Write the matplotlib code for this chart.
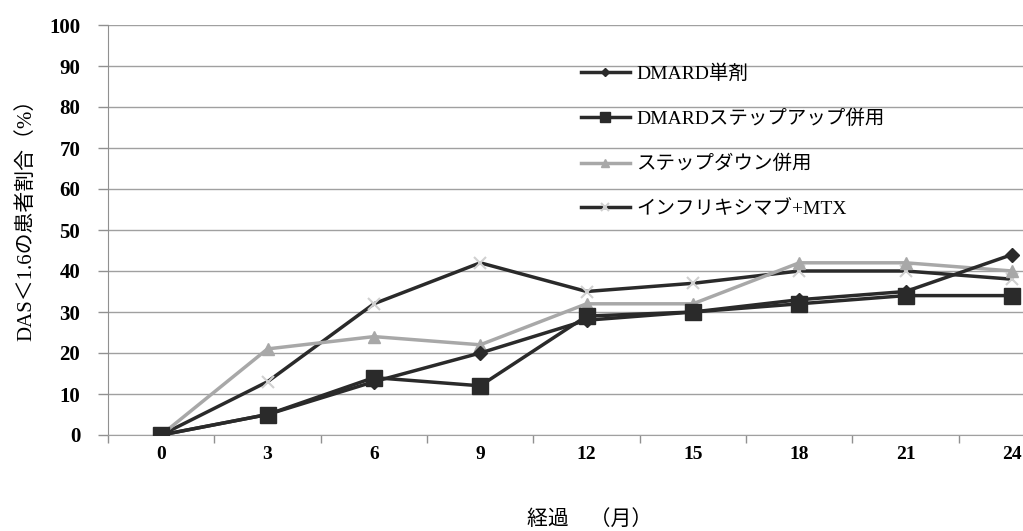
import matplotlib
matplotlib.use("Agg")
import matplotlib.pyplot as plt
from matplotlib.ticker import FixedLocator

plt.rcParams['font.family'] = ['Liberation Serif', 'Noto Sans CJK JP', 'DejaVu Sans']

months = ["0", "3", "6", "9", "12", "15", "18", "21", "24"]
dmard_single = [0, 5, 13, 20, 28, 30, 33, 35, 44]
dmard_stepup = [0, 5, 14, 12, 29, 30, 32, 34, 34]
stepdown = [0, 21, 24, 22, 32, 32, 42, 42, 40]
ifx_mtx = [0, 13, 32, 42, 35, 37, 40, 40, 38]
labels = ["DMARD単剤", "DMARDステップアップ併用", "ステップダウン併用", "インフリキシマブ+MTX"]

fig = plt.figure(figsize=(10.23, 5.31), dpi=100)
ax = fig.add_axes([108/1023, 1 - 435/531, 1 - 108/1023, (435 - 25)/531])
x = list(range(len(months)))

dark = "#2a2a2a"
l4, = ax.plot(x, ifx_mtx, color=dark, lw=2.5, marker='x', ms=9, mec="#d0d0d0", mew=1.5, zorder=3)
l3, = ax.plot(x, stepdown, color="#a8a8a8", lw=2.5, marker='^', ms=9, mfc="#a8a8a8", mec="#a8a8a8", zorder=4)
l1, = ax.plot(x, dmard_single, color=dark, lw=2.5, marker='D', ms=7, mfc=dark, mec=dark, zorder=5)
l2, = ax.plot(x, dmard_stepup, color=dark, lw=2.5, marker='s', ms=11, mfc=dark, mec=dark, zorder=6)

ax.set_ylim(0, 100)
ax.set_xlim(-0.5, (1023 - 160) / 106.5)
ax.set_yticks(range(0, 101, 10))
ax.yaxis.grid(True, color="#a0a0a0", lw=1.0)
ax.set_axisbelow(True)
ax.set_xticks(x)
ax.set_xticklabels(months)
ax.xaxis.set_minor_locator(FixedLocator([i + 0.5 for i in range(-1, 9)]))
ax.tick_params(axis='x', which='major', length=0, pad=8, labelsize=14)
ax.tick_params(axis='x', which='minor', length=6, color="#909090", width=1)
ax.tick_params(axis='y', length=7, color="#909090", width=1, pad=13, labelsize=15)
for lab in ax.get_xticklabels() + ax.get_yticklabels():
    lab.set_fontweight('bold')

for s in ['top', 'right']:
    ax.spines[s].set_visible(False)
ax.spines['left'].set_color("#909090")
ax.spines['bottom'].set_color("#a0a0a0")

ax.set_ylabel("DAS＜1.6の患者割合（%）", fontsize=15)
ax.yaxis.set_label_coords(-72/915, (435 - 215) / 410)
fig.text(590/1023, 1 - 520/531, "経過　（月）", ha='center', va='center', fontsize=15)

fig.legend([l1, l2, l3, l4], labels, loc='upper left', bbox_to_anchor=(581/1023, 1 - 64/531),
           frameon=False, fontsize=14, labelspacing=1.38, handlelength=2.5, handletextpad=0.35,
           borderaxespad=0, borderpad=0, markerscale=0.6)

fig.savefig("out.png", dpi=100)
